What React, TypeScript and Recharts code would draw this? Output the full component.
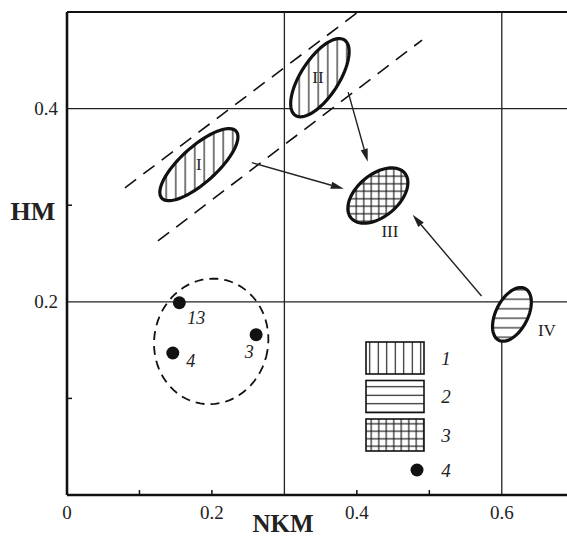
import React from "react";
import { ScatterChart, Scatter, XAxis, YAxis, ReferenceLine } from "recharts";

// axis ticks
const nkmTicks = [0, 0.1, 0.2, 0.3, 0.4, 0.5, 0.6];
const nkmTickLabels = ["0", "", "0.2", "", "0.4", "", "0.6"];
const hmTicks = [0, 0.1, 0.2, 0.3, 0.4];
const hmTickLabels = ["", "", "0.2", "", "0.4"];
const nkmGrid = [0.3, 0.6];
const hmGrid = [0.2, 0.4];

// hatched regions I..IV (kind = legend pattern 1/2/3)
const regionNames = ["I", "II", "III", "IV"];
const regionNkm = [0.182, 0.349, 0.429, 0.614];
const regionHm = [0.342, 0.432, 0.31, 0.187];
const regionKind = [1, 1, 3, 2];

// single samples (legend 4)
const sampleNames = ["13", "3", "4"];
const sampleNkm = [0.155, 0.261, 0.146];
const sampleHm = [0.199, 0.166, 0.147];

// dashed contour round the samples
const clusterNkm = [0.199];
const clusterHm = [0.159];

// dashed band round I and II
const bandFromNkm = [0.08, 0.1255];
const bandFromHm = [0.318, 0.263];
const bandToNkm = [0.4, 0.49];
const bandToHm = [0.499, 0.471];

// arrows towards III
const arrowFromNkm = [0.255, 0.388, 0.572];
const arrowFromHm = [0.344, 0.417, 0.206];
const arrowToNkm = [0.382, 0.415, 0.477];
const arrowToHm = [0.317, 0.345, 0.29];

const legendKinds = [1, 2, 3, 4];
const legendLabels = ["1", "2", "3", "4"];

const regions = regionNames.map((name, i) => ({ name, nkm: regionNkm[i], hm: regionHm[i], kind: regionKind[i] }));
const samples = sampleNames.map((name, i) => ({ name, nkm: sampleNkm[i], hm: sampleHm[i] }));
const cluster = clusterNkm.map((nkm, i) => ({ nkm, hm: clusterHm[i] }));

const FONT = "'Liberation Serif', 'DejaVu Serif', serif";
const INK = "#111";

// drawing sizes in px
const regionShapes: Record<string, { rx: number; ry: number; rot: number; lx: number; ly: number }> = {
  I: { rx: 50, ry: 18, rot: -42, lx: 0, ly: 0 },
  II: { rx: 45, ry: 19, rot: -57, lx: -2, ly: 0 },
  III: { rx: 35, ry: 21, rot: -40, lx: 12, ly: 36 },
  IV: { rx: 29, ry: 16, rot: -63, lx: 35, ly: 16 },
};
const sampleLabelOffset: Record<string, [number, number]> = {
  "13": [17, 15],
  "3": [-7, 17],
  "4": [18, 8],
};

function ellipsePath(cx: number, cy: number, rx: number, ry: number, deg: number) {
  const t = (deg * Math.PI) / 180;
  const pts: string[] = [];
  for (let i = 0; i < 72; i++) {
    const a = (i / 72) * Math.PI * 2;
    const px = rx * Math.cos(a);
    const py = ry * Math.sin(a);
    const x = cx + px * Math.cos(t) - py * Math.sin(t);
    const y = cy + px * Math.sin(t) + py * Math.cos(t);
    pts.push(`${x.toFixed(2)},${y.toFixed(2)}`);
  }
  return "M" + pts.join("L") + "Z";
}

function Hatch({ id, kind, step }: { id: string; kind: number; step: number }) {
  const h = step / 2;
  return (
    <pattern id={id} width={step} height={step} patternUnits="userSpaceOnUse">
      {kind !== 2 && <line x1={h} y1={0} x2={h} y2={step} stroke={INK} strokeWidth={1.1} />}
      {kind !== 1 && <line x1={0} y1={h} x2={step} y2={h} stroke={INK} strokeWidth={1.1} />}
    </pattern>
  );
}

const RegionShape = (props: any) => {
  const { cx, cy, payload } = props;
  const g = regionShapes[payload.name];
  const d = ellipsePath(cx, cy, g.rx, g.ry, g.rot);
  const id = `hatch-region-${payload.name}`;
  return (
    <g>
      <defs>
        <Hatch id={id} kind={payload.kind} step={payload.kind === 3 ? 7.5 : 9.5} />
      </defs>
      <path d={d} fill="#fff" />
      <path d={d} fill={`url(#${id})`} stroke={INK} strokeWidth={3.2} />
      <text
        x={cx + g.lx}
        y={cy + g.ly}
        textAnchor="middle"
        dominantBaseline="central"
        fontFamily={FONT}
        fontSize={17}
        fill="#222"
      >
        {payload.name}
      </text>
    </g>
  );
};

const SampleShape = (props: any) => {
  const { cx, cy, payload } = props;
  const [dx, dy] = sampleLabelOffset[payload.name];
  return (
    <g>
      <circle cx={cx} cy={cy} r={6.5} fill={INK} />
      <text
        x={cx + dx}
        y={cy + dy}
        textAnchor="middle"
        dominantBaseline="central"
        fontFamily={FONT}
        fontStyle="italic"
        fontSize={18}
        fill="#222"
      >
        {payload.name}
      </text>
    </g>
  );
};

const ClusterShape = (props: any) => {
  const { cx, cy } = props;
  return (
    <path
      d={ellipsePath(cx, cy, 57, 63, 10)}
      fill="none"
      stroke={INK}
      strokeWidth={1.8}
      strokeDasharray="9 6"
    />
  );
};

const ArrowShape = (props: any) => {
  const { x1, y1, x2, y2 } = props;
  const ang = Math.atan2(y2 - y1, x2 - x1);
  const L = 13;
  const W = 3.6;
  const bx = x2 - L * Math.cos(ang);
  const by = y2 - L * Math.sin(ang);
  const p1 = `${bx + W * Math.sin(ang)},${by - W * Math.cos(ang)}`;
  const p2 = `${bx - W * Math.sin(ang)},${by + W * Math.cos(ang)}`;
  return (
    <g>
      <line x1={x1} y1={y1} x2={bx} y2={by} stroke="#222" strokeWidth={1.4} />
      <polygon points={`${x2},${y2} ${p1} ${p2}`} fill="#222" />
    </g>
  );
};

const NkmTick = (props: any) => {
  const { x, y, payload } = props;
  const i = nkmTicks.indexOf(payload.value);
  const mark = payload.value > 0 && !nkmGrid.includes(payload.value);
  return (
    <g>
      {mark && <line x1={x} y1={y} x2={x} y2={y - 5} stroke={INK} strokeWidth={1.5} />}
      <text x={x} y={y + 17} textAnchor="middle" dominantBaseline="central" fontFamily={FONT} fontSize={19} fill="#222">
        {nkmTickLabels[i]}
      </text>
    </g>
  );
};

const HmTick = (props: any) => {
  const { x, y, payload } = props;
  const i = hmTicks.indexOf(payload.value);
  const mark = payload.value > 0 && !hmGrid.includes(payload.value);
  return (
    <g>
      {mark && <line x1={x} y1={y} x2={x + 5} y2={y} stroke={INK} strokeWidth={1.5} />}
      <text x={x - 9} y={y} textAnchor="end" dominantBaseline="central" fontFamily={FONT} fontSize={19} fill="#222">
        {hmTickLabels[i]}
      </text>
    </g>
  );
};

function PatternLegend() {
  return (
    <svg width={567} height={539} style={{ position: "absolute", left: 0, top: 0, pointerEvents: "none" }}>
      <defs>
        {legendKinds.slice(0, 3).map((k) => (
          <Hatch key={k} id={`hatch-legend-${k}`} kind={k} step={k === 3 ? 7.5 : 8.5} />
        ))}
      </defs>
      {legendKinds.map((k, i) => {
        const top = 342 + i * 38.5;
        return (
          <g key={k}>
            {k < 4 ? (
              <rect x={366} y={top} width={58} height={32} fill={`url(#hatch-legend-${k})`} stroke={INK} strokeWidth={1.6} />
            ) : (
              <circle cx={417} cy={470} r={6.5} fill={INK} />
            )}
            <text
              x={446}
              y={k < 4 ? top + 16 : 470}
              textAnchor="middle"
              dominantBaseline="central"
              fontFamily={FONT}
              fontStyle="italic"
              fontSize={19}
              fill="#222"
            >
              {legendLabels[i]}
            </text>
          </g>
        );
      })}
      <text x={33} y={220} textAnchor="middle" fontFamily={FONT} fontWeight="bold" fontSize={26} fill="#222">
        HM
      </text>
      <text x={283} y={532} textAnchor="middle" fontFamily={FONT} fontWeight="bold" fontSize={25} fill="#222">
        NKM
      </text>
    </svg>
  );
}

export default function App() {
  return (
    <div style={{ position: "absolute", left: 0, top: 0, width: 567, height: 539, background: "#fff", overflow: "hidden" }}>
      <ScatterChart width={567} height={539} margin={{ top: 12, right: 0, bottom: 0, left: 0 }}>
        <XAxis
          dataKey="nkm"
          type="number"
          domain={[0, 0.69]}
          ticks={nkmTicks}
          interval={0}
          height={44}
          tickSize={0}
          tickMargin={0}
          tickLine={false}
          tick={<NkmTick />}
          axisLine={{ stroke: INK, strokeWidth: 2.6 }}
        />
        <YAxis
          dataKey="hm"
          type="number"
          domain={[0, 0.5]}
          ticks={hmTicks}
          interval={0}
          width={67}
          tickSize={0}
          tickMargin={0}
          tickLine={false}
          tick={<HmTick />}
          axisLine={{ stroke: INK, strokeWidth: 2.6 }}
        />
        <ReferenceLine y={0.5} stroke={INK} strokeWidth={2.2} />
        {nkmGrid.map((v) => (
          <ReferenceLine key={`gx${v}`} x={v} stroke="#222" strokeWidth={1.3} />
        ))}
        {hmGrid.map((v) => (
          <ReferenceLine key={`gy${v}`} y={v} stroke="#222" strokeWidth={1.3} />
        ))}
        {bandFromNkm.map((v, i) => (
          <ReferenceLine
            key={`band${i}`}
            segment={[
              { x: v, y: bandFromHm[i] },
              { x: bandToNkm[i], y: bandToHm[i] },
            ]}
            stroke={INK}
            strokeWidth={1.6}
            strokeDasharray="14 9"
          />
        ))}
        {arrowFromNkm.map((v, i) => (
          <ReferenceLine
            key={`arrow${i}`}
            segment={[
              { x: v, y: arrowFromHm[i] },
              { x: arrowToNkm[i], y: arrowToHm[i] },
            ]}
            shape={ArrowShape}
          />
        ))}
        <Scatter data={cluster} shape={ClusterShape} isAnimationActive={false} />
        <Scatter data={regions} shape={RegionShape} isAnimationActive={false} />
        <Scatter data={samples} shape={SampleShape} isAnimationActive={false} />
      </ScatterChart>
      <PatternLegend />
    </div>
  );
}
